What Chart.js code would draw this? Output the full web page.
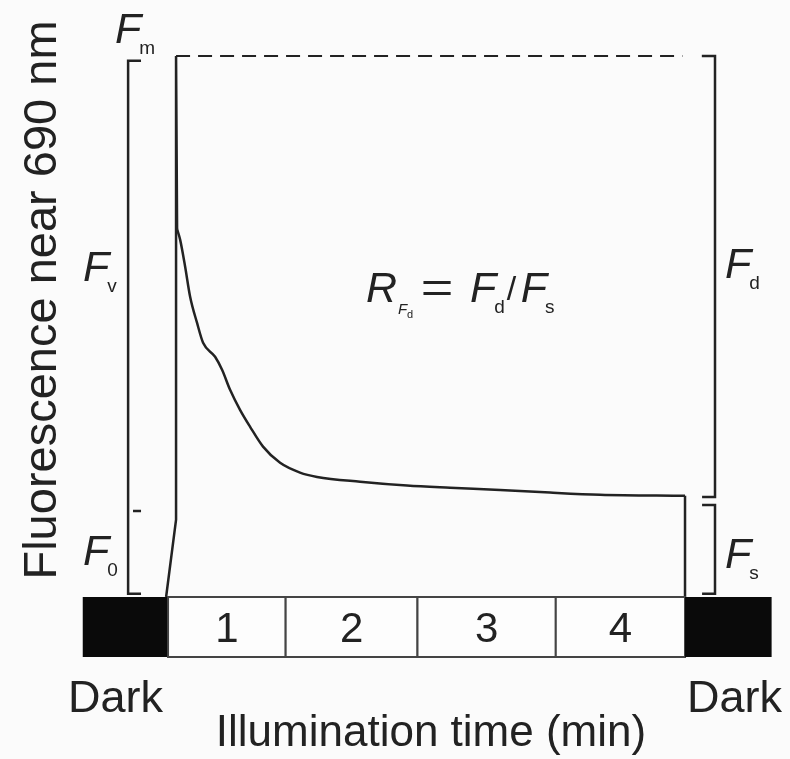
<!DOCTYPE html>
<html>
<head>
<meta charset="utf-8">
<script src="https://cdn.jsdelivr.net/npm/chart.js@4"></script>
<style>
  html, body { margin:0; padding:0; background:#fbfbfb; }
  canvas { display:block; }
</style>
</head>
<body>
<canvas id="chart" width="790" height="759"></canvas>
<script>
// fluorescence trace (time in min, fluorescence as % of Fm)
const curveTime  = [-0.015, 0.062, 0.062, 0.07, 0.093, 0.132, 0.170, 0.224, 0.271, 0.364, 0.418, 0.480, 0.557, 0.634, 0.735, 0.867, 1.021, 1.153, 1.486, 1.849, 2.182, 2.569, 2.955, 3.342, 4.0, 4.0];
const curveFluor = [0, 14.3, 100, 68, 66.1, 61.1, 55.6, 50.7, 47.0, 44.4, 42.0, 38.3, 34.6, 31.5, 27.8, 24.8, 23.0, 22.2, 21.3, 20.6, 20.2, 19.8, 19.3, 18.9, 18.7, 0];

// levels
const FM = 100;
const F0 = 15.9;
const FS = 18.5;

// illumination time bar
const barBounds = [-0.66, 0, 0.91, 1.93, 3.0, 4.0, 4.67];
const barLabels = ['', '1', '2', '3', '4', ''];
const barDark   = [true, false, false, false, false, true];

const INK = '#222';
const pts = (xs, ys) => xs.map((x, i) => ({x, y: ys[i]}));
const trace = pts(curveTime, curveFluor);

// bracket helper: list of [x,y] with null for a break
const path = arr => arr.map(p => p ? {x:p[0], y:p[1]} : {x:NaN, y:null});

const lineDs = (data, extra) => Object.assign({
  type:'line', data, borderColor:INK, borderWidth:2.5, pointRadius:0,
  tension:0, fill:false, spanGaps:false
}, extra || {});

const timeBarPlugin = {
  id:'timeBar',
  afterDatasetsDraw(chart){
    const {ctx, scales:{x, y}} = chart;
    const top = y.getPixelForValue(0), bot = y.getPixelForValue(y.min);
    ctx.save();
    for(let i=0;i<barLabels.length;i++){
      const a = x.getPixelForValue(barBounds[i]), b = x.getPixelForValue(barBounds[i+1]);
      ctx.fillStyle = barDark[i] ? '#0a0a0a' : '#fdfdfd';
      ctx.fillRect(a, top, b-a, bot-top);
      if(!barDark[i]){
        ctx.strokeStyle = '#444'; ctx.lineWidth = 2;
        ctx.strokeRect(a, top, b-a, bot-top);
        ctx.fillStyle = INK;
        ctx.font = '42px "Liberation Sans", Arial, sans-serif';
        ctx.textAlign = 'center'; ctx.textBaseline = 'alphabetic';
        ctx.fillText(barLabels[i], (a+b)/2, top+45);
      }
    }
    ctx.restore();
  }
};

function fLabel(ctx, main, sub, x, base){
  ctx.font = 'italic 43px "Liberation Sans", Arial, sans-serif';
  ctx.textAlign = 'left';
  ctx.fillText(main, x, base);
  const w = ctx.measureText(main).width;
  ctx.font = '19px "Liberation Sans", Arial, sans-serif';
  ctx.fillText(sub, x + w - 2, base + 11);
  return x + w - 2 + ctx.measureText(sub).width;
}

const textPlugin = {
  id:'texts',
  afterDraw(chart){
    const {ctx, scales:{y}} = chart;
    ctx.save();
    ctx.fillStyle = INK;
    ctx.textBaseline = 'alphabetic';

    // axis title
    ctx.save();
    ctx.translate(56, 300);
    ctx.rotate(-Math.PI/2);
    ctx.font = '47px "Liberation Sans", Arial, sans-serif';
    ctx.textAlign = 'center';
    ctx.fillText('Fluorescence near 690 nm', 0, 0);
    ctx.restore();

    // level labels
    fLabel(ctx, 'F', 'm', 115, y.getPixelForValue(FM) - 13);
    fLabel(ctx, 'F', 'v', 83, y.getPixelForValue((FM+F0)/2) - 2);
    fLabel(ctx, 'F', '0', 83, 565);
    fLabel(ctx, 'F', 'd', 725, y.getPixelForValue((FM+FS)/2) + 2);
    fLabel(ctx, 'F', 's', 725, 568);

    // ratio
    ctx.font = 'italic 43px "Liberation Sans", Arial, sans-serif';
    ctx.textAlign = 'left';
    ctx.fillText('R', 366, 302);
    ctx.font = 'italic 15px "Liberation Sans", Arial, sans-serif';
    ctx.fillText('F', 398, 314);
    ctx.font = '11px "Liberation Sans", Arial, sans-serif';
    ctx.fillText('d', 407, 318);
    ctx.font = '43px "Liberation Sans", Arial, sans-serif';
    ctx.save();
    ctx.translate(437, 0); ctx.scale(1.3, 1);
    ctx.textAlign = 'center';
    ctx.fillText('=', 0, 302);
    ctx.restore();
    let nx = fLabel(ctx, 'F', 'd', 470, 302);
    ctx.font = '34px "Liberation Sans", Arial, sans-serif';
    ctx.fillText('/', nx + 2, 300);
    fLabel(ctx, 'F', 's', nx + 16, 302);

    // bottom texts
    ctx.font = '45px "Liberation Sans", Arial, sans-serif';
    ctx.textAlign = 'left';
    ctx.fillText('Dark', 68, 712);
    ctx.textAlign = 'right';
    ctx.fillText('Dark', 782, 712);
    ctx.textAlign = 'center';
    ctx.font = '44px "Liberation Sans", Arial, sans-serif';
    ctx.fillText('Illumination time (min)', 431, 746);
    ctx.restore();
  }
};

new Chart(document.getElementById('chart'), {
  type:'line',
  data:{
    datasets:[
      // onset: rise to Fm and fall back along the light-on edge
      lineDs(trace.slice(0, 4)),
      // decay under continuous light
      lineDs(trace.slice(3, 25), {cubicInterpolationMode:'monotone'}),
      // light off
      lineDs(trace.slice(24)),
      // Fm dashed reference
      lineDs(path([[0.062, FM], [3.98, FM]]), {borderDash:[14, 8], borderWidth:2}),
      // right brackets (Fd above, Fs below)
      lineDs(path([[4.13, FM], [4.232, FM], [4.232, FS], [4.132, FS], null, [4.132, FS-1.5], [4.232, FS-1.5], [4.232, 0.6], [4.132, 0.6]])),
      // left bracket (Fv above F0)
      lineDs(path([[-0.209, FM-0.9], [-0.309, FM-0.9], [-0.309, 0.6], [-0.209, 0.6], null, [-0.271, F0], [-0.209, F0]]))
    ]
  },
  options:{
    responsive:false,
    animation:false,
    layout:{padding:{left:83, right:18, top:0, bottom:102}},
    scales:{
      x:{type:'linear', min:-0.658, max:4.673, display:false},
      y:{type:'linear', min:-11.09, max:110.35, display:false}
    },
    plugins:{legend:{display:false}, tooltip:{enabled:false}},
    clip:false
  },
  plugins:[timeBarPlugin, textPlugin]
});
</script>
</body>
</html>
